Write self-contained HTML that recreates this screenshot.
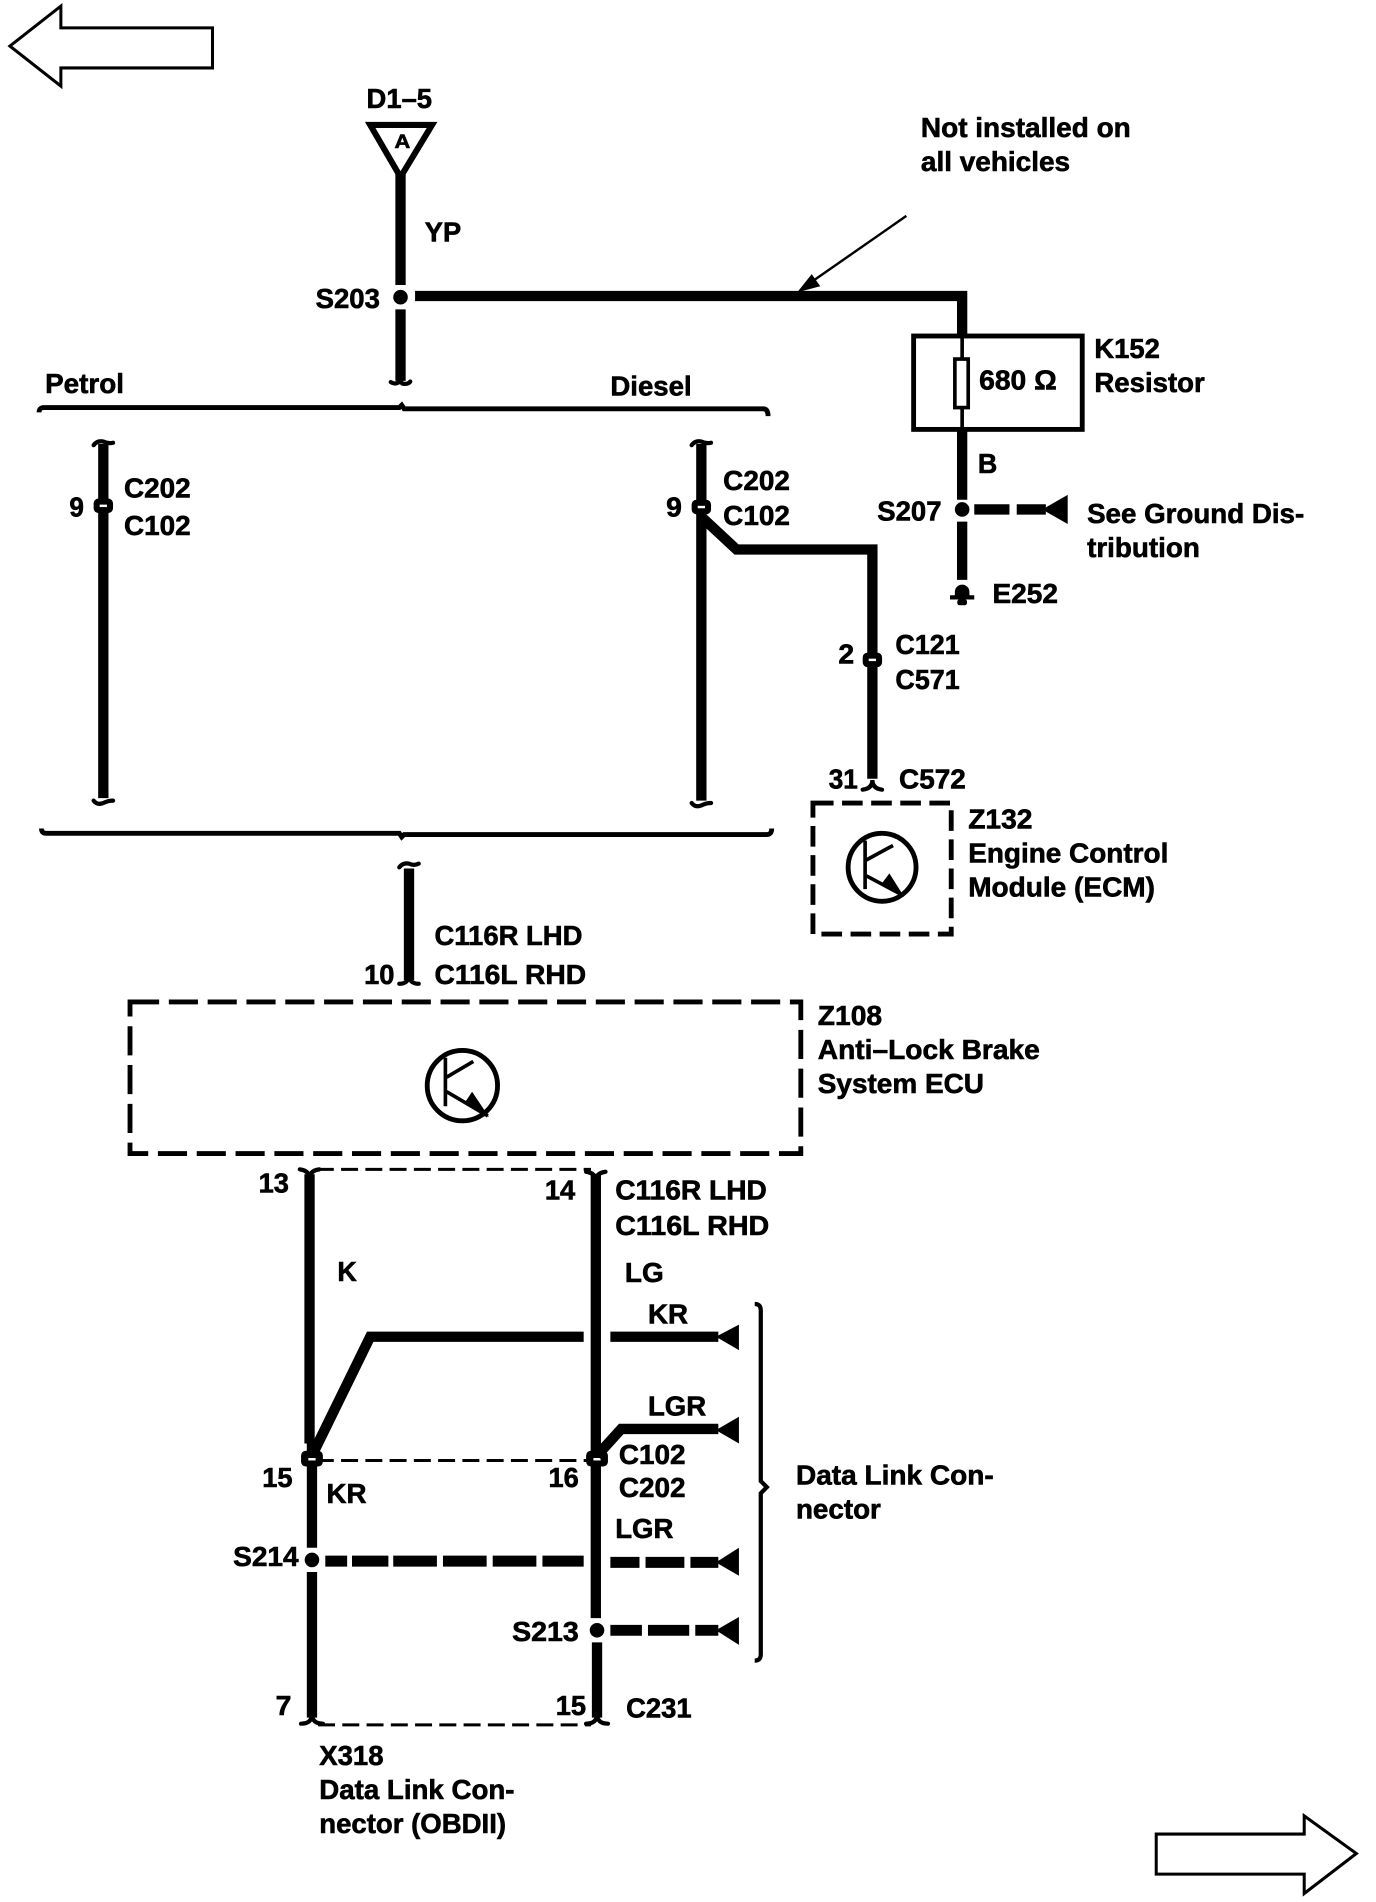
<!DOCTYPE html>
<html><head><meta charset="utf-8"><title>Wiring diagram</title>
<style>
html,body{margin:0;padding:0;background:#fff}
svg{display:block}
text{font-family:"Liberation Sans",sans-serif;font-weight:bold;font-size:22.5px;fill:#000;stroke:#000;stroke-width:.5}
.w{fill:none;stroke:#000;stroke-width:8.5;stroke-linejoin:miter}
.t{fill:none;stroke:#000;stroke-width:4}
.s{fill:none;stroke:#000;stroke-width:3.5;stroke-linecap:round}
.f{fill:#000;stroke:none}
.k{fill:#fff;stroke:none}
</style></head><body>
<svg width="1376" height="1902" viewBox="0 0 1134 1568" xmlns="http://www.w3.org/2000/svg">
<rect width="1134" height="1568" fill="#fff"/>
<!-- page arrows -->
<polygon points="8,38 50,5 50,23 175,23 175,56 50,56 50,71" fill="none" stroke="#000" stroke-width="2.5"/>
<polygon points="953,1512 1075,1512 1075,1497 1118,1528 1075,1561 1075,1545 953,1545" fill="none" stroke="#000" stroke-width="2.5"/>
<!-- top feed -->
<polygon points="305,103 356,103 330,146" fill="none" stroke="#000" stroke-width="5"/>
<path class="w" d="M330,142V235M330,255V314"/>
<path class="s" d="M322,315q3,2 6,0.500q3,-2 2,-4q0,5 3,5q4,0 5,-2"/>
<circle class="f" cx="330" cy="245" r="6"/>
<path class="w" d="M342,244H793V278"/>
<path d="M747,178L668,233" stroke="#000" stroke-width="2" fill="none"/>
<polygon class="f" points="657,241 669,226 676,236"/>
<!-- K152 -->
<rect x="753" y="277" width="139" height="77" class="t"/>
<rect x="787" y="296" width="11" height="40" fill="#fff" stroke="#000" stroke-width="3"/>
<path d="M793,278V296M793,336V354" stroke="#000" stroke-width="3"/>
<path class="w" d="M793,354V412M793,430V478"/>
<circle class="f" cx="793" cy="420" r="6"/>
<path d="M803,420H832M838,420H862" stroke="#000" stroke-width="8.5"/>
<polygon class="f" points="880,408 880,432 859,420"/>
<path class="f" d="M787,492v-4a6,6 0 0 1 12,0v4z"/>
<path d="M783,492.500H803" stroke="#000" stroke-width="3.500"/><rect x="789" y="494" width="8" height="5" rx="2" class="f"/>
<!-- buses -->
<path d="M32,340Q32,336 36,336H329L331,334L333,337H629Q633,337 633,343" fill="none" stroke="#000" stroke-width="4"/>
<path d="M34,683Q34,687 38,687H329L331,690L333,688H632Q636,688 636,683" fill="none" stroke="#000" stroke-width="4"/>
<!-- petrol -->
<path class="w" d="M85,366V658"/>
<path class="s" d="M77,367q3,-4 8,-3q4,2 8,1"/><path class="s" d="M77,660q3,4 8,2q4,-2 8,-2"/>
<rect x="77" y="411" width="16" height="12" rx="4" class="f"/><rect x="82" y="416" width="6" height="2" class="k"/>
<!-- diesel -->
<path class="w" d="M578,366V660"/>
<path class="s" d="M570,367q3,-4 8,-3q4,2 8,1"/><path class="s" d="M570,662q3,4 8,2q4,-2 8,-2"/>
<rect x="570" y="412" width="16" height="12" rx="4" class="f"/><rect x="575" y="417" width="6" height="2" class="k"/>
<path class="w" d="M578,426L607,453H719V642"/>
<rect x="711" y="538" width="16" height="12" rx="4" class="f"/><rect x="716" y="543" width="6" height="2" class="k"/>
<path class="s" d="M711,651q8,-1 8,-8q0,7 8,8"/>
<!-- Z132 -->
<rect x="670" y="662" width="114" height="108" fill="none" stroke="#000" stroke-width="4" stroke-dasharray="17,7"/>
<circle cx="727" cy="715" r="28" class="t"/>
<path d="M713,693V733M714,709L736,697M714,722L744,738" stroke="#000" stroke-width="3" fill="none"/>
<polygon class="f" points="745,739 727,728 733,720"/>
<!-- C116 drop -->
<path class="w" d="M337,716V808" stroke-width="7"/>
<path class="s" d="M329,715q3,-4 8,-3q4,2 8,0"/><path class="s" d="M329,811q8,0 8,-8q0,8 8,8"/>
<!-- Z108 -->
<rect x="107" y="826" width="553" height="125" fill="none" stroke="#000" stroke-width="4" stroke-dasharray="24,8"/>
<circle cx="381" cy="895" r="29" class="t"/>
<path d="M367,872V912M368,888L390,875M368,900L402,920" stroke="#000" stroke-width="3" fill="none"/>
<polygon class="f" points="403,921 383,909 389,900"/>
<!-- data link block -->
<path d="M261,964H487M261,1204H487M262,1422H487" fill="none" stroke="#000" stroke-width="2.5" stroke-dasharray="14,6"/>
<path class="w" d="M255,968V1190M257,1190V1276M257,1296V1416" stroke-width="8"/>
<path class="w" d="M491,968V1334M492,1354V1416" stroke-width="8"/>
<path class="s" d="M247,964q8,1 8,8q0,-7 8,-8M483,966q8,1 8,8q0,-7 8,-8M248,1421q9,0 9,-8q0,8 9,8M483,1421q9,0 9,-8q0,8 9,8"/>
<rect x="248" y="1196" width="18" height="13" rx="4" class="f"/><rect x="254" y="1202" width="6" height="2" class="k"/>
<rect x="483" y="1196" width="18" height="13" rx="4" class="f"/><rect x="489" y="1202" width="6" height="2" class="k"/>
<path class="w" d="M258,1198L305,1102H481M503,1102H592"/>
<polygon class="f" points="609,1092 609,1113 590,1102"/>
<path class="w" d="M492,1200L512,1178H592"/>
<polygon class="f" points="609,1168 609,1190 590,1179"/>
<circle class="f" cx="257" cy="1286" r="6"/>
<path d="M268,1287H481" stroke="#000" stroke-width="9" stroke-dasharray="18,4,30,4,36,5,36,5,36,5,40,0" fill="none"/>
<path d="M503,1288H592" stroke="#000" stroke-width="9" stroke-dasharray="24,5,32,5,30,0" fill="none"/>
<polygon class="f" points="609,1276 609,1299 590,1288"/>
<circle class="f" cx="492" cy="1344" r="6"/>
<path d="M503,1344H592" stroke="#000" stroke-width="9" stroke-dasharray="26,5,34,5,30,0" fill="none"/>
<polygon class="f" points="609,1333 609,1356 590,1344"/>
<path d="M622,1075Q627,1075 627,1080V1221L632,1226L627,1231V1364Q627,1369 622,1369" fill="none" stroke="#000" stroke-width="3.5"/>
<!-- labels -->
<text x="302" y="89" textLength="54" lengthAdjust="spacingAndGlyphs">D1–5</text>
<text x="325" y="122" textLength="13" lengthAdjust="spacingAndGlyphs" style="font-size:16px">A</text>
<text x="350" y="199" textLength="30" lengthAdjust="spacingAndGlyphs">YP</text>
<text x="260" y="254" textLength="53" lengthAdjust="spacingAndGlyphs">S203</text>
<text x="37" y="324" textLength="65" lengthAdjust="spacingAndGlyphs">Petrol</text>
<text x="503" y="326" textLength="67" lengthAdjust="spacingAndGlyphs">Diesel</text>
<text x="759" y="113" textLength="173" lengthAdjust="spacingAndGlyphs">Not installed on</text>
<text x="759" y="141" textLength="123" lengthAdjust="spacingAndGlyphs">all vehicles</text>
<text x="902" y="295" textLength="54" lengthAdjust="spacingAndGlyphs">K152</text>
<text x="902" y="323" textLength="91" lengthAdjust="spacingAndGlyphs">Resistor</text>
<text x="807" y="321" textLength="64" lengthAdjust="spacingAndGlyphs">680 Ω</text>
<text x="806" y="390" textLength="16" lengthAdjust="spacingAndGlyphs">B</text>
<text x="723" y="429" textLength="53" lengthAdjust="spacingAndGlyphs">S207</text>
<text x="896" y="431" textLength="179" lengthAdjust="spacingAndGlyphs">See Ground Dis-</text>
<text x="896" y="459" textLength="93" lengthAdjust="spacingAndGlyphs">tribution</text>
<text x="818" y="497" textLength="54" lengthAdjust="spacingAndGlyphs">E252</text>
<text x="57" y="426" textLength="12" lengthAdjust="spacingAndGlyphs">9</text>
<text x="102" y="410" textLength="55" lengthAdjust="spacingAndGlyphs">C202</text>
<text x="102" y="441" textLength="55" lengthAdjust="spacingAndGlyphs">C102</text>
<text x="549" y="426" textLength="13" lengthAdjust="spacingAndGlyphs">9</text>
<text x="596" y="404" textLength="55" lengthAdjust="spacingAndGlyphs">C202</text>
<text x="596" y="433" textLength="55" lengthAdjust="spacingAndGlyphs">C102</text>
<text x="691" y="547" textLength="13" lengthAdjust="spacingAndGlyphs">2</text>
<text x="738" y="539" textLength="53" lengthAdjust="spacingAndGlyphs">C121</text>
<text x="738" y="568" textLength="53" lengthAdjust="spacingAndGlyphs">C571</text>
<text x="683" y="650" textLength="24" lengthAdjust="spacingAndGlyphs">31</text>
<text x="741" y="650" textLength="55" lengthAdjust="spacingAndGlyphs">C572</text>
<text x="798" y="683" textLength="53" lengthAdjust="spacingAndGlyphs">Z132</text>
<text x="798" y="711" textLength="165" lengthAdjust="spacingAndGlyphs">Engine Control</text>
<text x="798" y="739" textLength="154" lengthAdjust="spacingAndGlyphs">Module (ECM)</text>
<text x="358" y="779" textLength="122" lengthAdjust="spacingAndGlyphs">C116R LHD</text>
<text x="300" y="811" textLength="25" lengthAdjust="spacingAndGlyphs">10</text>
<text x="358" y="811" textLength="125" lengthAdjust="spacingAndGlyphs">C116L RHD</text>
<text x="674" y="845" textLength="53" lengthAdjust="spacingAndGlyphs">Z108</text>
<text x="674" y="873" textLength="183" lengthAdjust="spacingAndGlyphs">Anti–Lock Brake</text>
<text x="674" y="901" textLength="137" lengthAdjust="spacingAndGlyphs">System ECU</text>
<text x="213" y="983" textLength="25" lengthAdjust="spacingAndGlyphs">13</text>
<text x="449" y="989" textLength="25" lengthAdjust="spacingAndGlyphs">14</text>
<text x="507" y="989" textLength="125" lengthAdjust="spacingAndGlyphs">C116R LHD</text>
<text x="507" y="1018" textLength="127" lengthAdjust="spacingAndGlyphs">C116L RHD</text>
<text x="278" y="1056" textLength="16" lengthAdjust="spacingAndGlyphs">K</text>
<text x="515" y="1057" textLength="32" lengthAdjust="spacingAndGlyphs">LG</text>
<text x="534" y="1091" textLength="33" lengthAdjust="spacingAndGlyphs">KR</text>
<text x="534" y="1167" textLength="48" lengthAdjust="spacingAndGlyphs">LGR</text>
<text x="510" y="1207" textLength="55" lengthAdjust="spacingAndGlyphs">C102</text>
<text x="510" y="1234" textLength="55" lengthAdjust="spacingAndGlyphs">C202</text>
<text x="216" y="1226" textLength="25" lengthAdjust="spacingAndGlyphs">15</text>
<text x="452" y="1226" textLength="25" lengthAdjust="spacingAndGlyphs">16</text>
<text x="269" y="1239" textLength="33" lengthAdjust="spacingAndGlyphs">KR</text>
<text x="507" y="1268" textLength="48" lengthAdjust="spacingAndGlyphs">LGR</text>
<text x="192" y="1291" textLength="54" lengthAdjust="spacingAndGlyphs">S214</text>
<text x="422" y="1353" textLength="55" lengthAdjust="spacingAndGlyphs">S213</text>
<text x="227" y="1414" textLength="13" lengthAdjust="spacingAndGlyphs">7</text>
<text x="458" y="1414" textLength="25" lengthAdjust="spacingAndGlyphs">15</text>
<text x="516" y="1416" textLength="54" lengthAdjust="spacingAndGlyphs">C231</text>
<text x="656" y="1224" textLength="163" lengthAdjust="spacingAndGlyphs">Data Link Con-</text>
<text x="656" y="1252" textLength="70" lengthAdjust="spacingAndGlyphs">nector</text>
<text x="263" y="1455" textLength="53" lengthAdjust="spacingAndGlyphs">X318</text>
<text x="263" y="1483" textLength="161" lengthAdjust="spacingAndGlyphs">Data Link Con-</text>
<text x="263" y="1511" textLength="154" lengthAdjust="spacingAndGlyphs">nector (OBDII)</text>
</svg>
</body></html>
